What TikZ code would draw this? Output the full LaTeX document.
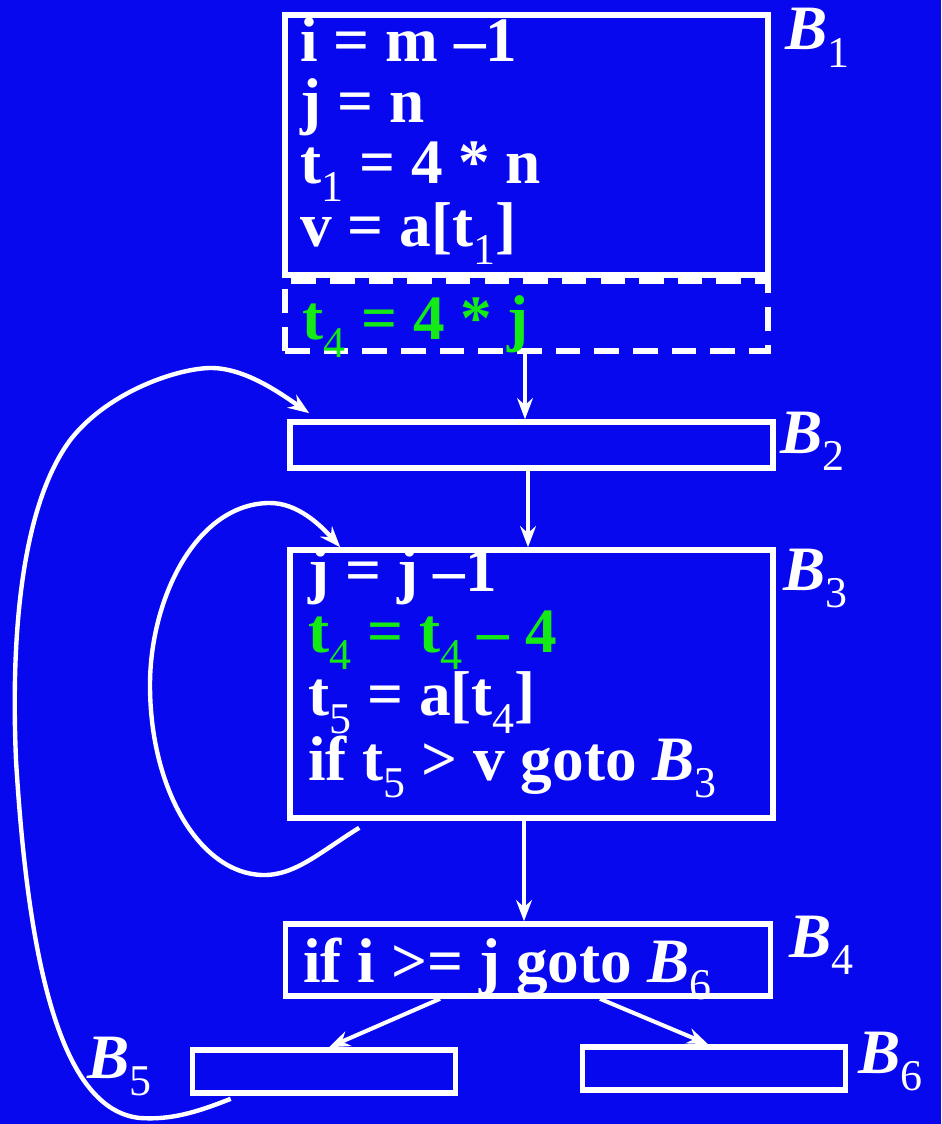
\documentclass[tikz,border=0pt]{standalone}
\usepackage{fontspec}
\setmainfont{Liberation Serif}
\usepackage{tikz}
\usetikzlibrary{calc, positioning, arrows.meta}
\definecolor{slide}{RGB}{8,8,238}
\definecolor{hot}{RGB}{20,235,20}
\newcommand{\sub}[1]{\raisebox{-0.28em}{\mdseries\fontsize{25}{25}\selectfont #1}}
\newcommand{\blk}[1]{{\itshape B}\sub{#1}}

\begin{document}
\begin{tikzpicture}[x=0.02cm, y=-0.02cm,
    box/.style={draw=white, line width=3.2pt, inner sep=0pt},
    code/.style={text=white, font=\bfseries\fontsize{36}{34.8}\selectfont, anchor=base west, inner sep=0pt, align=left},
    lbl/.style={text=white, font=\bfseries\fontsize{36}{36}\selectfont, anchor=base west, inner sep=0pt},
    flow/.style={draw=white, line width=2.3pt, -{Stealth[length=12pt, width=9pt, inset=4pt]}},
    back/.style={draw=white, line width=2.5pt, -{Stealth[length=12pt, width=9pt, inset=4pt]}}]
  \fill[slide] (0,0) rectangle (941,1124);
  \useasboundingbox (0,0) rectangle (941,1124);

  \node[box, minimum width=9.66cm, minimum height=5.2cm] (B1) at (526.5,145) {};
  \node[box, dashed, dash pattern=on 14pt off 8pt, minimum width=9.66cm, minimum height=1.4cm] (D) at (526.5,316) {};
  \node[box, minimum width=9.66cm, minimum height=0.92cm] (B2) at (531.5,445) {};
  \node[box, minimum width=9.66cm, minimum height=5.36cm] (B3) at (531.5,684) {};
  \node[box, minimum width=9.7cm, minimum height=1.44cm] (B4) at (528,960) {};
  \node[box, minimum width=5.26cm, minimum height=0.86cm] (B5) at (324,1071.5) {};
  \node[box, minimum width=5.26cm, minimum height=0.86cm] (B6) at (714,1068.5) {};

  % the last line of each block sets its place
  \node[code] (c1) at (300,247) {i = m --1\\ j = n\\ t\sub{1} = 4 * n\\ v = a[t\sub{1}]};
  \node[code, text=hot] (c2) at (302,340) {t\sub{4} = 4 * j};
  \node[code] (c3) at (308,780) {j = j --1\\ \textcolor{hot}{t\sub{4} = t\sub{4} -- 4}\\ t\sub{5} = a[t\sub{4}]\\ if t\sub{5} > v goto \blk{3}};
  \node[code] (c4) at (303,982) {if i >= j goto \blk{6}};

  \node[lbl] (l1) at (785,50) {\blk{1}};
  \node[lbl] (l2) at (780,453) {\blk{2}};
  \node[lbl] (l3) at (783,590) {\blk{3}};
  \node[lbl] (l4) at (789,957) {\blk{4}};
  \node[lbl] (l5) at (87,1078) {\blk{5}};
  \node[lbl] (l6) at (858,1073) {\blk{6}};

  \draw[flow] ([xshift=-0.03cm]D.south) -- ([xshift=-0.03cm]D.south |- B2.north);
  \draw[flow] ([xshift=-0.07cm]B2.south) -- ([xshift=-0.07cm]B2.south |- B3.north);
  \draw[flow] ([xshift=-0.15cm]B3.south) -- ([xshift=-0.15cm]B3.south |- B4.north);
  \draw[flow] ([xshift=-1.76cm]B4.south) -- ([xshift=0.1cm]B5.north);
  \draw[flow] ([xshift=1.44cm]B4.south) -- ([xshift=-0.12cm]B6.north);

  \draw[back] ([shift={(72,7)}]B3.south west)
    .. controls (320,852) and (295,876) .. (262,875)
    .. controls (200,873) and (150,790) .. (150,685)
    .. controls (150,600) and (195,505) .. (268,503)
    .. controls (298,502) and (322,527) .. ([shift={(53,0)}]B3.north west);
  \draw[back] ([shift={(41,3)}]B5.south west)
    .. controls (195,1113) and (170,1120) .. (140,1118)
    .. controls (60,1110) and (28,960) .. (16,760)
    .. controls (10,620) and (25,500) .. (71,439)
    .. controls (110,390) and (180,368) .. (211,368)
    .. controls (245,368) and (280,393) .. ([shift={(22,-6)}]B2.north west);
\end{tikzpicture}
\end{document}
